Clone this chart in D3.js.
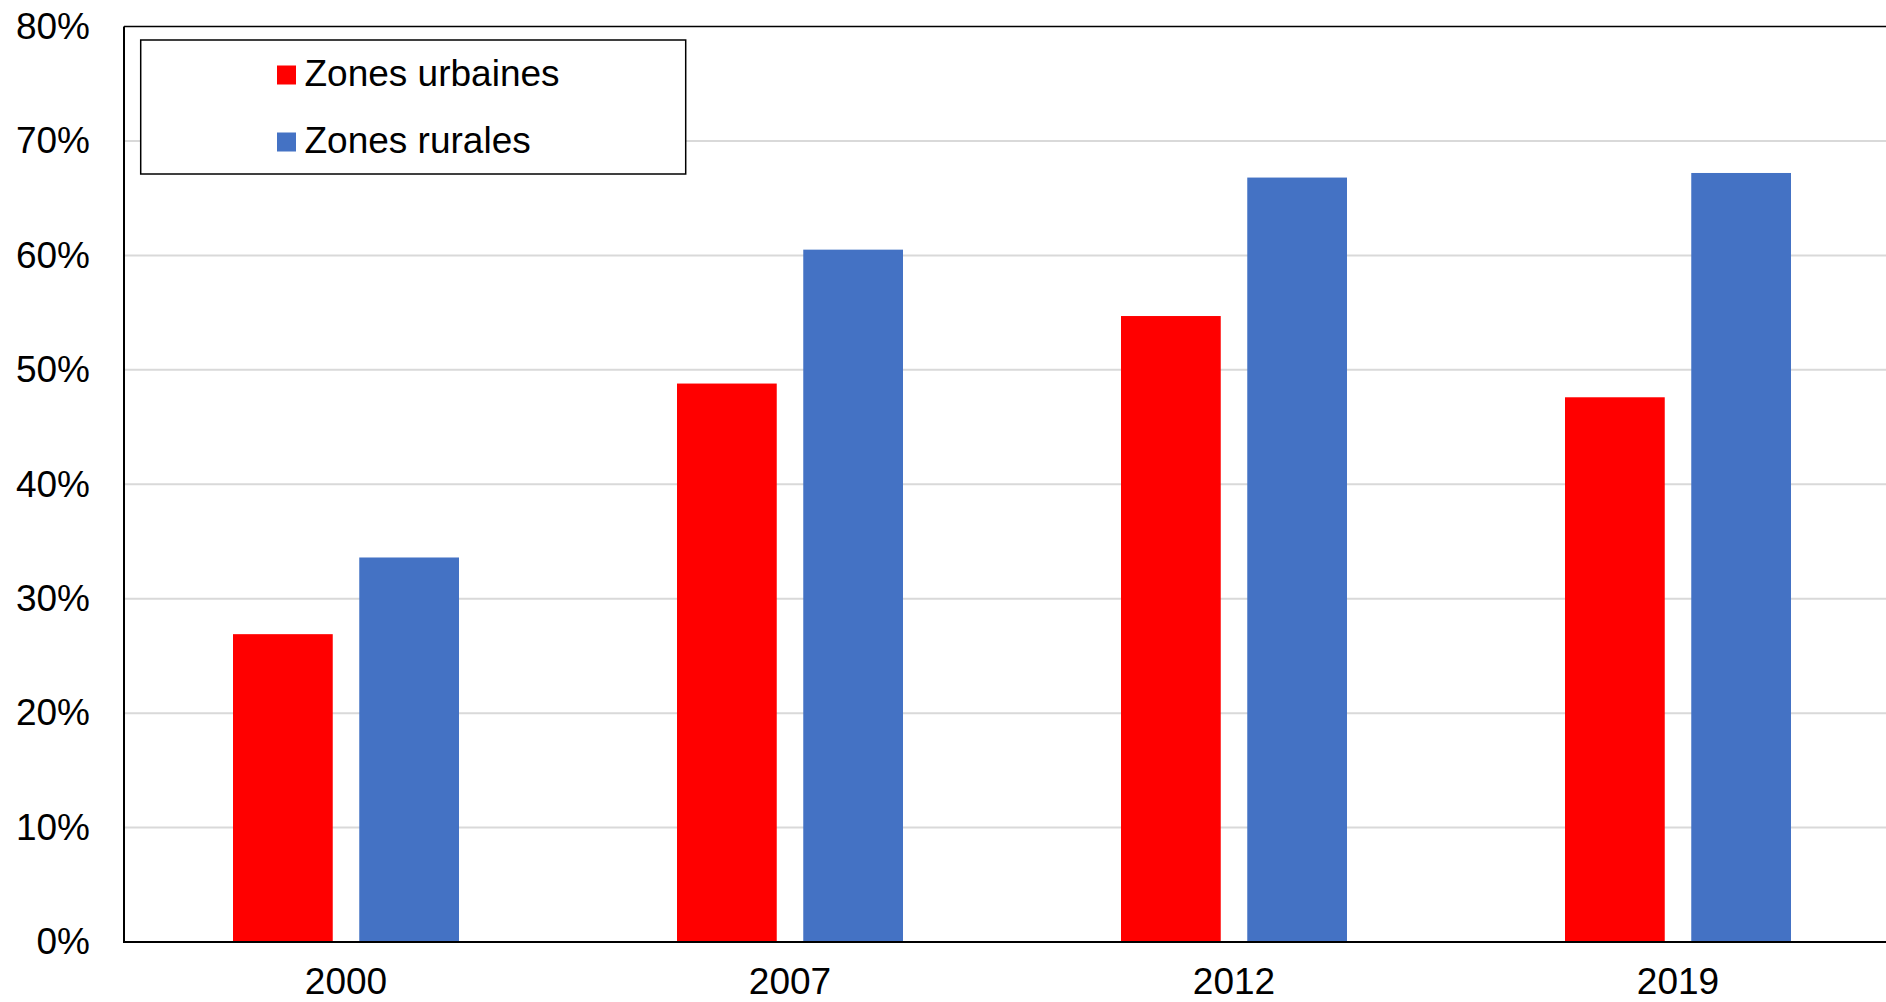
<!DOCTYPE html>
<html>
<head>
<meta charset="utf-8">
<script src="https://cdn.jsdelivr.net/npm/d3@7"></script>
<style>
  html, body { margin: 0; padding: 0; background: #fff; }
  svg { display: block; }
  text { font-family: "Liberation Sans", Arial, sans-serif; fill: #000; }
</style>
</head>
<body>
<svg id="chart" width="1886" height="1002"></svg>
<script>
// Categories, series and tick labels
const years = ["2000", "2007", "2012", "2019"];
const seriesNames = ["Zones urbaines", "Zones rurales"];
const seriesColors = ["#ff0000", "#4472c4"];
const urbainValues = [26.9, 48.8, 54.7, 47.6];
const ruralValues = [33.6, 60.5, 66.8, 67.2];
const yTicks = [0, 10, 20, 30, 40, 50, 60, 70, 80];

const seriesValues = [urbainValues, ruralValues];
const rows = years.map((y, i) => ({
  year: y,
  values: seriesNames.map((s, k) => ({ series: s, k, value: seriesValues[k][i] }))
}));

const W = 1886, H = 1002;
const plot = { left: 124, top: 26.5, right: 1900, bottom: 942 };
const FONT = "37px";

const svg = d3.select("#chart");

const x0 = d3.scaleBand()
  .domain(years)
  .range([plot.left, plot.right])
  .paddingInner(0.491)
  .paddingOuter(0.2455);

const x1 = d3.scaleBand()
  .domain(seriesNames)
  .range([0, x0.bandwidth()])
  .paddingInner(0.21)
  .paddingOuter(0);

const y = d3.scaleLinear()
  .domain([0, 80])
  .range([plot.bottom, plot.top]);

// Horizontal gridlines
svg.append("g")
  .selectAll("line")
  .data(yTicks.filter(t => t > 0 && t < 80))
  .join("line")
  .attr("x1", plot.left)
  .attr("x2", W)
  .attr("y1", d => y(d))
  .attr("y2", d => y(d))
  .attr("stroke", "#d9d9d9")
  .attr("stroke-width", 2);

// Bars
svg.append("g")
  .selectAll("g")
  .data(rows)
  .join("g")
  .attr("transform", d => `translate(${x0(d.year)},0)`)
  .selectAll("rect")
  .data(d => d.values)
  .join("rect")
  .attr("x", d => x1(d.series))
  .attr("width", x1.bandwidth())
  .attr("y", d => y(d.value))
  .attr("height", d => y(0) - y(d.value))
  .attr("fill", d => seriesColors[d.k]);

// Plot frame: top and left edges
svg.append("line")
  .attr("x1", plot.left).attr("x2", W)
  .attr("y1", plot.top).attr("y2", plot.top)
  .attr("stroke", "#000").attr("stroke-width", 1.5);
svg.append("line")
  .attr("x1", plot.left).attr("x2", plot.left)
  .attr("y1", plot.top).attr("y2", plot.bottom)
  .attr("stroke", "#000").attr("stroke-width", 2);

// Y axis labels
const yAxis = d3.axisLeft(y)
  .tickValues(yTicks)
  .tickSize(0)
  .tickPadding(34)
  .tickFormat(d => d + "%");
const gy = svg.append("g")
  .attr("transform", `translate(${plot.left},0)`)
  .call(yAxis);
gy.select(".domain").remove();
gy.selectAll("text")
  .style("font-size", FONT)
  .attr("font-family", null)
  .attr("fill", "#000");

// X axis
const xAxis = d3.axisBottom(x0).tickSize(0).tickPadding(0);
const gx = svg.append("g")
  .attr("transform", `translate(0,${plot.bottom})`)
  .call(xAxis);
gx.select(".domain").remove();
gx.selectAll("text")
  .attr("dy", null)
  .attr("y", 52)
  .style("font-size", FONT)
  .attr("fill", "#000");
svg.append("line")
  .attr("x1", plot.left - 1).attr("x2", W)
  .attr("y1", plot.bottom).attr("y2", plot.bottom)
  .attr("stroke", "#000").attr("stroke-width", 2);

// Legend
const legend = svg.append("g");
legend.append("rect")
  .attr("x", 140.7).attr("y", 40)
  .attr("width", 545).attr("height", 134)
  .attr("fill", "#fff")
  .attr("stroke", "#000")
  .attr("stroke-width", 1.5);
const items = legend.selectAll("g.item")
  .data(seriesNames)
  .join("g")
  .attr("class", "item")
  .attr("transform", (d, i) => `translate(277,${65.5 + i * 67})`);
items.append("rect")
  .attr("width", 19).attr("height", 19)
  .attr("fill", (d, i) => seriesColors[i]);
items.append("text")
  .attr("x", 27.5)
  .attr("y", 20)
  .style("font-size", FONT)
  .text(d => d);
</script>
</body>
</html>
